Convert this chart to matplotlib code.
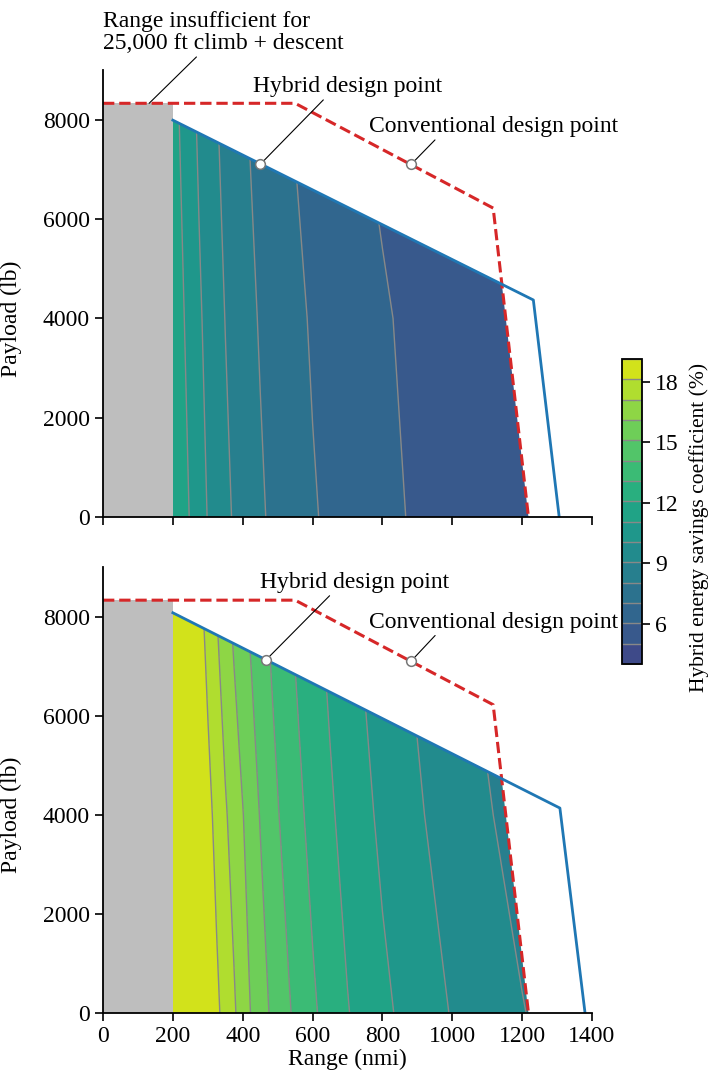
import matplotlib
matplotlib.use("Agg")
import matplotlib.pyplot as plt
import numpy as np
from matplotlib.patches import Polygon

plt.rcParams['font.family'] = ['Liberation Serif', 'DejaVu Serif']
plt.rcParams['font.size'] = 17

# grid of the contour field (range in nmi, payload in lb)
grid_range = [200, 250, 275, 300, 325, 350, 375, 400, 425, 450, 475, 500,
              550, 600, 650, 700, 800, 900, 1000, 1100, 1200, 1300, 1400]
grid_payload = [0, 4000, 8500]

# hybrid energy savings coefficient (%), 25,000 ft case (top)
savings_top = [
    [11.90, 11.01, 10.50, 10.02, 9.65, 9.28, 8.96, 8.70, 8.44, 8.18, 7.96, 7.79,
     7.45, 7.11, 6.88, 6.67, 6.26, 5.90, 5.62, 5.40, 5.22, 5.12, 5.06],
    [11.75, 10.71, 10.20, 9.78, 9.40, 9.03, 8.75, 8.47, 8.20, 7.96, 7.78, 7.59,
     7.23, 6.94, 6.73, 6.53, 6.12, 5.79, 5.55, 5.36, 5.20, 5.10, 5.05],
    [11.42, 10.34, 9.87, 9.48, 9.08, 8.77, 8.47, 8.16, 7.92, 7.71, 7.51, 7.31,
     6.95, 6.68, 6.42, 6.16, 5.80, 5.55, 5.35, 5.20, 5.10, 5.05, 5.03],
]
# bottom case
savings_bottom = [
    [19.00, 18.80, 18.65, 18.50, 18.34, 17.81, 17.26, 16.65, 16.05, 15.58, 15.11, 14.70,
     13.92, 13.25, 12.68, 12.13, 11.29, 10.61, 10.00, 9.54, 9.09, 8.73, 8.45],
    [18.95, 18.75, 18.60, 18.45, 17.85, 17.25, 16.70, 16.16, 15.60, 15.06, 14.61, 14.16,
     13.42, 12.78, 12.22, 11.72, 10.86, 10.17, 9.63, 9.12, 8.71, 8.40, 8.15],
    [19.05, 18.85, 18.40, 17.74, 17.08, 16.41, 15.83, 15.30, 14.83, 14.38, 13.97, 13.61,
     12.92, 12.32, 11.78, 11.27, 10.49, 9.84, 9.27, 8.78, 8.45, 8.20, 8.00],
]
level_min, level_max, n_levels = 4.0, 19.15, 16

# payload-range envelopes
conv_range = [0, 550, 1117, 1218]
conv_payload = [8330, 8330, 6220, 0]
hyb_range_top = [200, 1232, 1306]
hyb_payload_top = [7990, 4370, 0]
hyb_range_bottom = [200, 1308, 1380]
hyb_payload_bottom = [8075, 4135, 0]

# design points
hyb_point_top = (450, 7100)
hyb_point_bottom = (466, 7120)
conv_point = (882, 7100)

# region with too short range for climb + descent
climb_range = 200
climb_payload = 8330

levels = np.linspace(level_min, level_max, n_levels)


def panel(ax, savings, hyb_range, hyb_payload, hyb_point, hyb_text_xy, conv_text_xy):
    Z = np.array(savings)
    clip = Polygon(list(zip(hyb_range, hyb_payload)) + [(hyb_range[0], 0)],
                   closed=True, transform=ax.transData, facecolor='none', edgecolor='none')
    ax.add_patch(clip)
    cs = ax.contourf(grid_range, grid_payload, Z, levels=levels, cmap='viridis',
                     vmin=0, vmax=20, zorder=1)
    cl = ax.contour(grid_range, grid_payload, Z, levels=levels, colors='#888888',
                    linewidths=1.0, zorder=1.1)
    cs.set_clip_path(clip)
    cl.set_clip_path(clip)
    # blank everything beyond the conventional envelope
    mask = Polygon(list(zip(conv_range, conv_payload)) + [(1400, 0), (1400, 9000), (0, 9000)],
                   closed=True, facecolor='white', edgecolor='none', zorder=1.5)
    ax.add_patch(mask)
    ax.fill_between([0, climb_range], 0, climb_payload, color='#bebebe', lw=0, zorder=1.6)
    ax.plot(conv_range, conv_payload, color='#d62728', lw=2.2, ls='--', zorder=3)
    ax.plot(hyb_range, hyb_payload, color='#1f77b4', lw=2.0, zorder=3)

    ax.annotate('Hybrid design point', xy=hyb_point, xytext=hyb_text_xy,
                ha='center', va='center', annotation_clip=False,
                arrowprops=dict(arrowstyle='-', color='black', lw=0.8,
                                shrinkA=0, shrinkB=4, relpos=(0.39, 0.05)), zorder=4)
    ax.annotate('Conventional design point', xy=conv_point, xytext=conv_text_xy,
                ha='center', va='center', annotation_clip=False,
                arrowprops=dict(arrowstyle='-', color='black', lw=0.8,
                                shrinkA=0, shrinkB=4, relpos=(0.28, 0.05)), zorder=4)
    ax.plot(*hyb_point, 'o', ms=7, mfc='white', mec='#777777', mew=1.1, zorder=5)
    ax.plot(*conv_point, 'o', ms=7, mfc='white', mec='#777777', mew=1.1, zorder=5)

    ax.set_xlim(0, 1400)
    ax.set_ylim(0, 9000)
    ax.set_xticks(range(0, 1401, 200))
    ax.set_yticks(range(0, 8001, 2000))
    for s in ['top', 'right']:
        ax.spines[s].set_visible(False)
    for s in ['left', 'bottom']:
        ax.spines[s].set_linewidth(1.3)
        ax.spines[s].set_zorder(6)
    ax.tick_params(direction='out', length=6, width=1.2)
    ax.set_ylabel('Payload (lb)')
    ax.yaxis.set_label_coords(-0.166, 4000 / 9000)
    return cs, cl


fig = plt.figure(figsize=(7.12, 10.74), dpi=100)
ax1 = fig.add_axes([0.1447, 0.5186, 0.6868, 0.4162])
ax2 = fig.add_axes([0.1447, 0.0568, 0.6868, 0.4153])

panel(ax1, savings_top, hyb_range_top, hyb_payload_top, hyb_point_top,
      (701, 8666), (1118, 7860))
cs2, cl2 = panel(ax2, savings_bottom, hyb_range_bottom, hyb_payload_bottom, hyb_point_bottom,
                 (719, 8687), (1118, 7885))

ax1.set_xticklabels([])
ax2.set_xlabel('Range (nmi)', labelpad=1)

ax1.annotate('Range insufficient for\n25,000 ft climb + descent', xy=(132, climb_payload),
             xytext=(0, 9750), ha='left', va='center', annotation_clip=False,
             linespacing=1.05,
             arrowprops=dict(arrowstyle='-', color='black', lw=0.8,
                             shrinkA=0, shrinkB=0, relpos=(0.4, 0.0)))

cax = fig.add_axes([0.8736, 0.3818, 0.0281, 0.284])
cbar = fig.colorbar(cs2, cax=cax, ticks=[6, 9, 12, 15, 18])
cbar.add_lines(cl2)
cbar.outline.set_linewidth(1.3)
cax.tick_params(direction='out', length=6, width=1.2)
cbar.set_label('Hybrid energy savings coefficient (%)', fontsize=15.5)
cax.yaxis.set_label_coords(3.35, 0.449)

fig.savefig('out.png', dpi=100)
